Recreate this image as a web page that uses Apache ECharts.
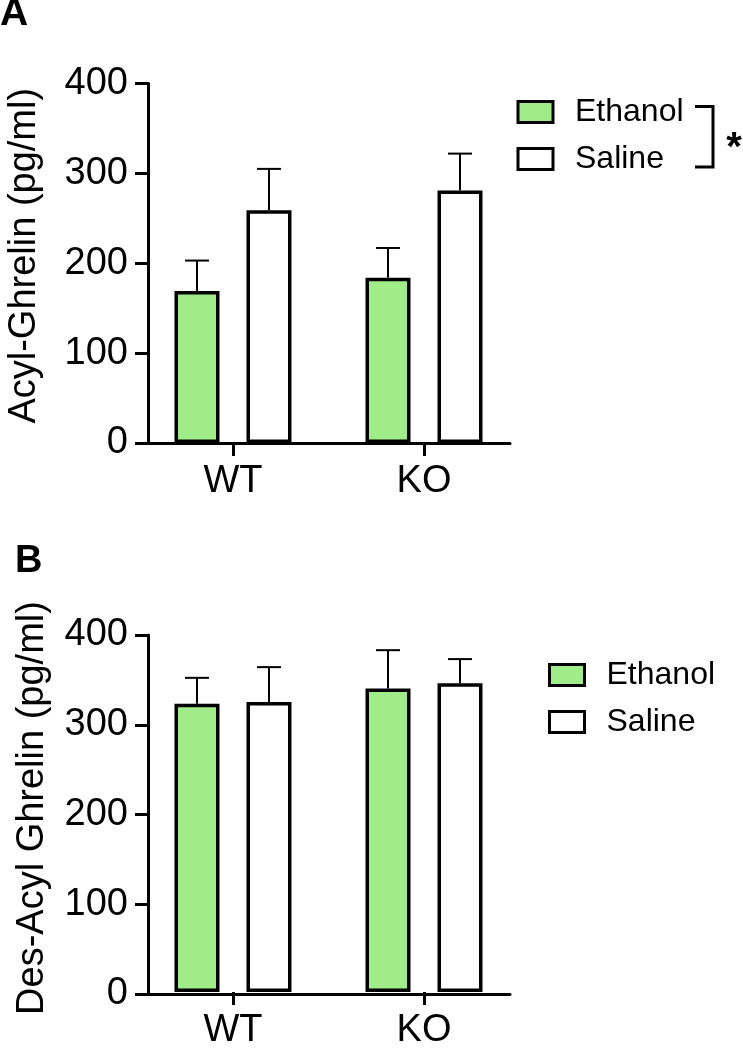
<!DOCTYPE html>
<html>
<head>
<meta charset="utf-8">
<script src="https://cdn.jsdelivr.net/npm/echarts@6/dist/echarts.min.js"></script>
<style>
html,body{margin:0;padding:0;background:#fff;}
#chart{width:743px;height:1050px;}
</style>
</head>
<body>
<div id="chart"></div>
<script>
// ---- data ----
const categories = ['WT', 'KO'];
const seriesNames = ['Ethanol', 'Saline'];
// Panel A: Acyl-Ghrelin (pg/ml)
const acylEthanol = [169, 184];
const acylEthanolUpper = [203, 217];
const acylSaline = [259, 281];
const acylSalineUpper = [305, 322];
// Panel B: Des-Acyl Ghrelin (pg/ml)
const desEthanol = [323, 340];
const desEthanolUpper = [352, 383];
const desSaline = [325, 346];
const desSalineUpper = [364, 373];
const yTicks = [0, 100, 200, 300, 400];

// ---- style ----
const FONT = "'Liberation Sans', Arial, sans-serif";
const GREEN = '#A0EC88';
const BAR_W = 45;
const BAR_GAP = 0.6;
const OFFSET = (BAR_W + BAR_W * BAR_GAP) / 2;

const chart = echarts.init(document.getElementById('chart'), null, {renderer: 'canvas'});

function lineAxis(gridIndex) {
  return {
    gridIndex, type: 'value', min: 0, max: 1,
    axisLine: {show: true, lineStyle: {color: '#000', width: 3}},
    axisTick: {show: false}, axisLabel: {show: false}, splitLine: {show: false}
  };
}
function catAxis(gridIndex) {
  return {
    gridIndex, type: 'category', data: categories,
    axisLine: {show: false},
    axisTick: {show: true, alignWithLabel: true, length: 13, lineStyle: {color: '#000', width: 3}},
    axisLabel: {color: '#000', fontSize: 38, fontFamily: FONT, margin: 20},
    splitLine: {show: false}
  };
}
function valAxis(gridIndex, name, nameGap, pad) {
  return {
    gridIndex, type: 'value', min: yTicks[0], max: yTicks[yTicks.length - 1], interval: 100,
    name, nameLocation: 'middle', nameGap,
    nameTextStyle: {color: '#000', fontSize: 38, fontFamily: FONT, padding: [0, 0, 0, pad]},
    axisLine: {show: true, lineStyle: {color: '#000', width: 3}},
    axisTick: {show: true, length: 13, lineStyle: {color: '#000', width: 3}},
    axisLabel: {color: '#000', fontSize: 38, fontFamily: FONT, margin: 20},
    splitLine: {show: false}
  };
}
function hiddenVal(gridIndex) {
  return {gridIndex, type: 'value', min: 0, max: 400, show: false, splitLine: {show: false}};
}
function barSeries(name, data, xi, yi, color) {
  return {
    name, type: 'bar', xAxisIndex: xi, yAxisIndex: yi, data,
    barWidth: BAR_W, barGap: (BAR_GAP * 100) + '%',
    itemStyle: {color, borderColor: '#000', borderWidth: 3.5},
    emphasis: {disabled: true}, z: 3
  };
}
function errSeries(means, uppers, xi, yi, sign) {
  const data = means.map((m, i) => [i, m, uppers[i]]);
  return {
    type: 'custom', xAxisIndex: xi, yAxisIndex: yi, data, z: 2,
    renderItem: function (params, api) {
      const base = api.coord([api.value(0), api.value(1)]);
      const top = api.coord([api.value(0), api.value(2)]);
      const x = base[0] + sign * OFFSET;
      const style = {stroke: '#000', lineWidth: 2};
      return {
        type: 'group',
        children: [
          {type: 'line', shape: {x1: x, y1: base[1], x2: x, y2: top[1]}, style},
          {type: 'line', shape: {x1: x - 12, y1: top[1], x2: x + 12, y2: top[1]}, style}
        ]
      };
    }
  };
}
function legend(left, top) {
  return {
    data: seriesNames, orient: 'vertical', left, top, padding: 0,
    icon: 'rect', itemWidth: 35, itemHeight: 21, itemGap: 15,
    itemStyle: {borderColor: '#000', borderWidth: 3},
    textStyle: {color: '#000', fontSize: 32, fontFamily: FONT, padding: [0, 0, 0, 17]},
    selectedMode: false
  };
}

const option = {
  backgroundColor: '#fff',
  animation: false,
  grid: [
    {left: 148, width: 362, top: 83.5, height: 359.5},
    {left: 137.5, width: 382, top: 83.5, height: 359.5},
    {left: 148, width: 362, top: 635, height: 359},
    {left: 137.5, width: 382, top: 635, height: 359}
  ],
  xAxis: [lineAxis(0), catAxis(1), lineAxis(2), catAxis(3)],
  yAxis: [
    valAxis(0, 'Acyl-Ghrelin (pg/ml)', 104, 15), hiddenVal(1),
    valAxis(2, 'Des-Acyl Ghrelin (pg/ml)', 96, 13), hiddenVal(3)
  ],
  legend: [legend(516.5, 96), legend(548, 659)],
  series: [
    barSeries('Ethanol', acylEthanol, 1, 1, GREEN),
    barSeries('Saline', acylSaline, 1, 1, '#fff'),
    errSeries(acylEthanol, acylEthanolUpper, 1, 1, -1),
    errSeries(acylSaline, acylSalineUpper, 1, 1, 1),
    barSeries('Ethanol', desEthanol, 3, 3, GREEN),
    barSeries('Saline', desSaline, 3, 3, '#fff'),
    errSeries(desEthanol, desEthanolUpper, 3, 3, -1),
    errSeries(desSaline, desSalineUpper, 3, 3, 1)
  ],
  graphic: [
    {type: 'text', left: 0, top: -5, style: {text: 'A', fontSize: 39, fontWeight: 'bold', fontFamily: FONT, fill: '#000'}},
    {type: 'text', left: 15, top: 543, style: {text: 'B', fontSize: 38, fontWeight: 'bold', fontFamily: FONT, fill: '#000'}},
    {type: 'polyline', shape: {points: [[695, 106.5], [713, 106.5], [713, 167], [695, 167]]},
     style: {stroke: '#000', lineWidth: 3, fill: null}},
    {type: 'text', x: 734, y: 149, style: {text: '*', fontSize: 40, fontWeight: 'bold', fontFamily: FONT, fill: '#000', align: 'center', verticalAlign: 'middle'}}
  ]
};
chart.setOption(option);
</script>
</body>
</html>
